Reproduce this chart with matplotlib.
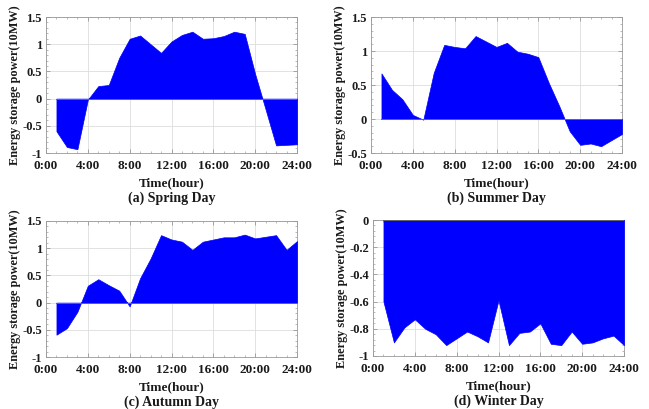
import matplotlib
matplotlib.use("Agg")
import matplotlib.pyplot as plt
from matplotlib.ticker import MultipleLocator

plt.rcParams['font.family'] = ['Liberation Serif', 'DejaVu Serif']
plt.rcParams['font.weight'] = 'bold'
plt.rcParams['axes.unicode_minus'] = False

hours = list(range(1, 25))

spring = [-0.60, -0.89, -0.93, -0.02, 0.23, 0.25, 0.75, 1.10, 1.16, 1.00,
          0.84, 1.05, 1.17, 1.23, 1.10, 1.11, 1.15, 1.23, 1.19, 0.45,
          -0.20, -0.86, -0.85, -0.84]
summer = [0.67, 0.43, 0.29, 0.06, -0.01, 0.68, 1.09, 1.06, 1.04, 1.22,
          1.14, 1.06, 1.12, 0.99, 0.96, 0.91, 0.53, 0.19, -0.18, -0.38,
          -0.36, -0.40, -0.31, -0.22]
autumn = [-0.59, -0.47, -0.17, 0.31, 0.43, 0.32, 0.22, -0.07, 0.45, 0.81,
          1.24, 1.16, 1.12, 0.97, 1.12, 1.16, 1.20, 1.20, 1.25, 1.18,
          1.21, 1.24, 0.97, 1.13]
winter = [-0.60, -0.90, -0.79, -0.73, -0.80, -0.84, -0.92, -0.87, -0.82, -0.855,
          -0.90, -0.59, -0.92, -0.83, -0.82, -0.76, -0.91, -0.92, -0.82, -0.91,
          -0.90, -0.87, -0.85, -0.92]

xticks = [0, 4, 8, 12, 16, 20, 24]
xticklabels = ['0:00', '4:00', '8:00', '12:00', '16:00', '20:00', '24:00']

panels = [
    (spring, (-1, 1.5), [-1, -0.5, 0, 0.5, 1, 1.5], ['-1', '-0.5', '0', '0.5', '1', '1.5'], '(a) Spring Day'),
    (summer, (-0.5, 1.5), [-0.5, 0, 0.5, 1, 1.5], ['-0.5', '0', '0.5', '1', '1.5'], '(b) Summer Day'),
    (autumn, (-1, 1.5), [-1, -0.5, 0, 0.5, 1, 1.5], ['-1', '-0.5', '0', '0.5', '1', '1.5'], '(c) Autumn Day'),
    (winter, (-1, 0), [-1, -0.8, -0.6, -0.4, -0.2, 0], ['-1', '-0.8', '-0.6', '-0.4', '-0.2', '0'], '(d) Winter Day'),
]

W, H = 649, 409
fig = plt.figure(figsize=(W / 100, H / 100), dpi=100)
boxes = [(46, 17, 297, 153), (371, 17, 622, 153), (46, 221, 297, 357), (373, 220, 624, 356)]
txtc = '#1a1a1a'

for (vals, ylim, yt, ytl, cap), (l, t, r, b) in zip(panels, boxes):
    ax = fig.add_axes([l / W, 1 - b / H, (r - l) / W, (b - t) / H])
    ax.fill_between(hours, vals, 0, color='#0000ff', linewidth=0.5, edgecolor='#0000ff', zorder=3)
    ax.plot([1, 24], [0, 0], color='#666666', linewidth=0.7, zorder=4)
    ax.set_xlim(0, 24)
    ax.set_ylim(*ylim)
    ax.set_xticks(xticks)
    ax.set_xticklabels(xticklabels)
    ax.set_yticks(yt)
    ax.set_yticklabels(ytl)
    ax.xaxis.set_minor_locator(MultipleLocator(1))
    ax.yaxis.set_minor_locator(MultipleLocator((yt[1] - yt[0]) / 5))
    ax.grid(True, which='major', color='#dddddd', linewidth=0.6, zorder=0)
    ax.tick_params(which='both', direction='in', top=True, right=True, colors='#888888',
                   labelcolor=txtc, labelsize=9.5)
    ax.tick_params(axis='x', pad=5)
    ax.tick_params(axis='y', pad=3, labelsize=9)
    ax.tick_params(which='major', length=3, width=0.5)
    ax.tick_params(which='minor', length=1.5, width=0.4)
    for lab in ax.get_xticklabels() + ax.get_yticklabels():
        lab.set_fontweight('bold')
    for s in ax.spines.values():
        s.set_color('#999999')
        s.set_linewidth(0.6)
    hgt = b - t
    wid = r - l
    ax.text(0.5, -(183 - 153) / hgt, 'Time(hour)', transform=ax.transAxes, ha='center', va='center',
            fontsize=9.5, fontweight='bold', color=txtc)
    ax.text(0.5, -(198 - 153) / hgt, cap, transform=ax.transAxes, ha='center', va='center',
            fontsize=10, fontweight='bold', color=txtc)
    ax.text(-31 / wid, 0.5, 'Energy storage power(10MW)', transform=ax.transAxes, ha='center',
            va='center', rotation=90, fontsize=8.8, fontweight='bold', color=txtc)

fig.savefig('out.png', dpi=100)
